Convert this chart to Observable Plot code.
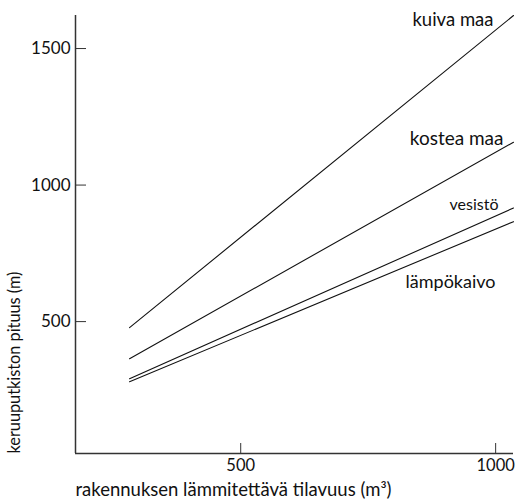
<!DOCTYPE html>
<html><head><meta charset="utf-8">
<script src="https://cdn.jsdelivr.net/npm/d3@7"></script>
<script src="https://cdn.jsdelivr.net/npm/@observablehq/plot@0.6"></script>
<style>body{margin:0;background:#fff;} svg{font-family:Lato,"Open Sans",sans-serif;}</style>
</head><body><div id="chart"></div>
<script>
const series = ["kuiva maa", "kostea maa", "vesistö", "lämpökaivo"];
const xStart = 282, xEnd = 1035;
const yStartVals = [478, 364, 291, 280];
const yEndVals = [1621, 1157, 916, 866];
const labelY = [1606, 1168, 927, 646];
const labelSize = [18.5, 19, 16, 18];
const xTicks = [500, 1000];
const yTicks = [500, 1000, 1500];
const xDomain = [176, 1035];
const yDomain = [17, 1621];
const xLabel = "rakennuksen lämmitettävä tilavuus (m³)";
const yLabel = "keruuputkiston pituus (m)";

const lines = series.flatMap((s, i) => [
  {s, x: xStart, y: yStartVals[i]},
  {s, x: xEnd, y: yEndVals[i]}
]);
const labels = series.map((s, i) => ({s, y: labelY[i], size: labelSize[i]}));
const labelDx = [-20, -10, -15, -18];

const plot = Plot.plot({
  width: 517, height: 501,
  marginLeft: 75, marginRight: 4, marginTop: 15, marginBottom: 48,
  x: {domain: xDomain},
  y: {domain: yDomain},
  style: {fontFamily: "Lato, 'Open Sans', sans-serif", color: "#111"},
  marks: [
    Plot.axisX({ticks: xTicks, tickSize: -10, text: null, label: null, stroke: "#333"}),
    Plot.axisX({ticks: xTicks, tickSize: 0, tickPadding: 6, fontSize: 16.5, tickFormat: "d", label: null, fill: "#111"}),
    Plot.axisY({ticks: yTicks, tickSize: -11, text: null, label: null, stroke: "#333"}),
    Plot.axisY({ticks: yTicks, tickSize: 0, tickPadding: 5, fontSize: 17, tickFormat: "d", label: null, fill: "#111"}),
    Plot.ruleY([yDomain[0]], {stroke: "#333", strokeWidth: 1.5}),
    Plot.ruleX([xDomain[0]], {stroke: "#333", strokeWidth: 1.5}),
    Plot.line(lines, {x: "x", y: "y", z: "s", stroke: "#111", strokeWidth: 1.1}),
    ...labels.map((d, i) => Plot.text([d], {x: xEnd, y: "y", text: "s", textAnchor: "end", dx: labelDx[i], fontSize: d.size, fill: "#111"})),
    Plot.text([xLabel], {frameAnchor: "bottom-left", textAnchor: "start", text: d => d, dy: 42, fontSize: 18.5, fill: "#111"}),
    Plot.text([yLabel], {frameAnchor: "bottom-left", textAnchor: "start", text: d => d, rotate: -90, dx: -56, fontSize: 16.3, fill: "#111"})
  ]
});
document.getElementById("chart").append(plot);
</script></body></html>
